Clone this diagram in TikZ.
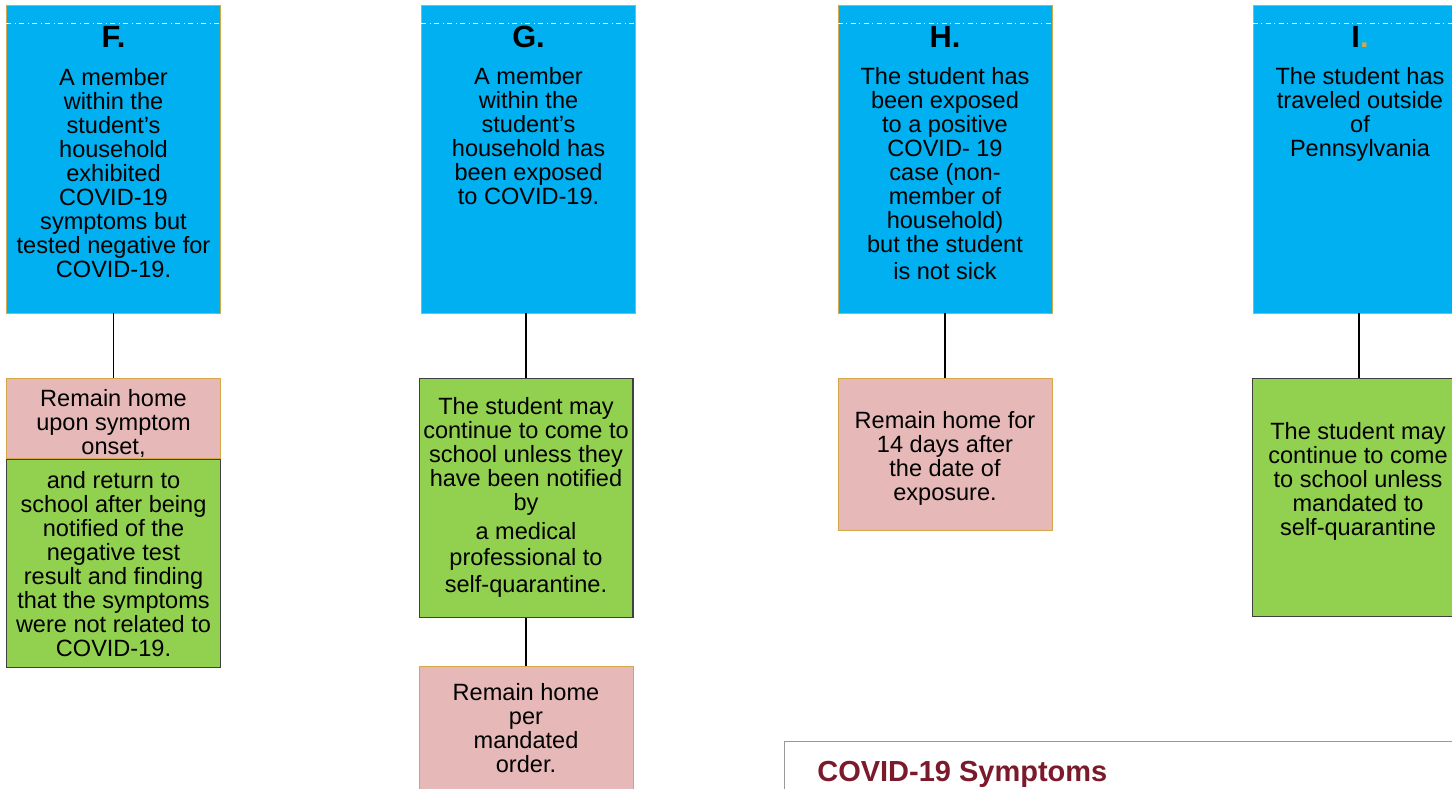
\documentclass[tikz,border=0pt]{standalone}
\usepackage{fontspec}
\setmainfont{Liberation Sans}
\usetikzlibrary{positioning}

\definecolor{boxblue}{HTML}{00B0F0}
\definecolor{boxgreen}{HTML}{92D050}
\definecolor{boxpink}{HTML}{E6B9B8}
\definecolor{boxtan}{HTML}{D4A84A}
\definecolor{boxgray}{HTML}{404040}
\definecolor{titlered}{HTML}{7B1A2B}

\begin{document}
\begin{tikzpicture}[x=0.02cm, y=-0.02cm, node distance=1.3cm]
\tikzset{
    caseStyle/.style={rectangle, fill=boxblue, draw=boxtan, line width=0.5pt, minimum width=4.28cm, minimum height=6.16cm, inner sep=0},
    stayStyle/.style={rectangle, fill=boxpink, draw=boxtan, line width=0.5pt, minimum width=4.28cm, inner sep=0},
    goStyle/.style={rectangle, fill=boxgreen, draw=boxgray, line width=0.6pt, minimum width=4.28cm, inner sep=0},
    titleStyle/.style={inner sep=0, font=\fontsize{17.5}{18}\selectfont\bfseries},
    textStyle/.style={anchor=north, align=center, inner sep=0, font=\fontsize{13.4}{13.7}\selectfont},
    linkStyle/.style={line width=0.8pt, black}
}

\useasboundingbox (0,0) rectangle (1452,788);

% case boxes
\node[caseStyle] (caseF) at (113.5,159) {};
\node[caseStyle] (caseG) at (528.5,159) {};
\node[caseStyle] (caseH) at (945,159) {};
\node[caseStyle] (caseI) at (1360,159) {};

\foreach \c in {F,G,H,I}
    \draw[white, line width=0.4pt, dash dot] ([yshift=-0.38cm]case\c.north west) -- ([yshift=-0.38cm]case\c.north east);

\node[titleStyle] (titleF) at (113.5,37) {F.};
\node[titleStyle] (titleG) at (528.5,37) {G.};
\node[titleStyle] (titleH) at (945,37) {H.};
\node[titleStyle] (titleI) at (1360,37) {I{\color{boxtan}.}};

\node[textStyle] (textF) at (113.5,68) {A member\\within the\\student’s\\household\\exhibited\\COVID-19\\symptoms but\\tested negative for\\COVID-19.};
\node[textStyle] (textG) at (528.5,67) {A member\\within the\\student’s\\household has\\been exposed\\to COVID-19.};
\node[textStyle] (textH) at (945,67) {The student has\\been exposed\\to a positive\\COVID- 19\\case (non-\\member of\\household)\\but the student\\[0.06cm]is not sick};
\node[textStyle] (textI) at (1360,67) {The student has\\traveled outside\\of\\Pennsylvania};

% outcome boxes
\node[stayStyle, minimum height=1.6cm, below=1.3cm of caseF] (stayF) {};
\node[goStyle, minimum height=4.16cm, below=0cm of stayF] (goF) {};
\node[goStyle, minimum height=4.78cm, below=1.3cm of caseG, xshift=-0.05cm] (goG) {};
\node[stayStyle, minimum height=2.8cm, below=0.96cm of goG] (stayG) {};
\node[stayStyle, minimum height=3.04cm, below=1.3cm of caseH] (stayH) {};
\node[goStyle, minimum height=4.76cm, below=1.3cm of caseI, xshift=-0.02cm] (goI) {};

\node[textStyle] (textStayF) at (113.5,389) {Remain home\\upon symptom\\onset,};
\node[textStyle] (textGoF) at (113.5,471) {and return to\\school after being\\notified of the\\negative test\\result and finding\\that the symptoms\\were not related to\\COVID-19.};
\node[textStyle] (textGoG) at (526,397) {The student may\\continue to come to\\school unless they\\have been notified\\by\\[0.1cm]a medical\\[0.04cm]professional to\\[0.06cm]self-quarantine.};
\node[textStyle] (textStayG) at (526,683) {Remain home\\per\\mandated\\order.};
\node[textStyle] (textStayH) at (945,411) {Remain home for\\14 days after\\the date of\\exposure.};
\node[textStyle] (textGoI) at (1358,422) {The student may\\continue to come\\to school unless\\mandated to\\self-quarantine};

% links
\draw[linkStyle] (caseF.south) -- (stayF.north);
\draw[linkStyle] (caseG.south -| goG.north) -- (goG.north);
\draw[linkStyle] (caseH.south) -- (stayH.north);
\draw[linkStyle] (caseI.south -| goI.north) -- (goI.north);
\draw[linkStyle] (goG.south) -- (stayG.north);

% symptoms panel
\node[rectangle, draw=gray!80, line width=0.8pt, fill=white, minimum width=14.32cm, minimum height=3cm, anchor=north west] (symBox) at (784,741) {};
\node[anchor=base west, inner sep=0, text=titlered, font=\fontsize{16.5}{17}\selectfont\bfseries] (symTitle) at (817,781) {COVID-19 Symptoms};

\end{tikzpicture}
\end{document}
